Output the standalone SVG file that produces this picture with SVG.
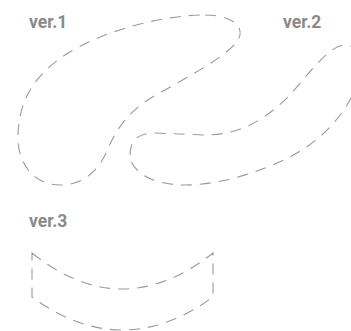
<svg xmlns="http://www.w3.org/2000/svg" width="351" height="331" viewBox="0 0 351 331">
<style>
.lbl{font-family:Roboto,"Liberation Sans",sans-serif;font-weight:bold;font-size:17.5px;fill:#8a8a8a}
.sh{fill:none;stroke:#9a9a9a;stroke-width:1.1;stroke-dasharray:11 8}
</style>
<rect width="351" height="331" fill="#fff"/>
<g id="label-ver1"><text class="lbl" x="29" y="28">ver.1</text></g>
<g id="label-ver2"><text class="lbl" x="283" y="28">ver.2</text></g>
<g id="label-ver3"><text class="lbl" x="29" y="227">ver.3</text></g>
<g id="shape-ver1"><path class="sh" d="M205,15 C230,15 242,25 240,35 C237,50 200,70 165,90 C130,108 118,125 105,155 C95,175 80,185 60,185 C35,185 18,165 18,138 C18,100 35,75 65,55 C100,32 160,15 205,15 Z"/></g>
<g id="shape-ver2"><path class="sh" d="M130,155 C130,140 138,133 155,133 L205,135 C240,135 265,120 290,95 C310,72 330,45 345,45 C365,45 365,70 350,100 C330,135 300,155 265,168 C240,178 210,185 185,185 C150,185 130,170 130,155 Z"/></g>
<g id="shape-ver3"><path class="sh" d="M32,253 Q122,325 213,253 L213,297 Q122,363 32,297 Z"/></g>
</svg>
